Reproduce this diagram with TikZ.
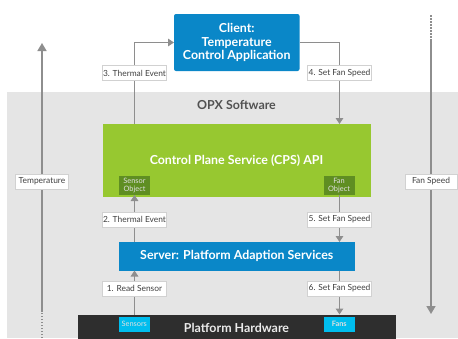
\documentclass[tikz,border=0pt]{standalone}
\usepackage{fontspec}
\setmainfont{Lato}
\usetikzlibrary{arrows.meta}
\definecolor{bgray}{HTML}{E5E5E5}
\definecolor{dblue}{HTML}{0A87C8}
\definecolor{dgreen}{HTML}{97C830}
\definecolor{objg}{HTML}{5F8E22}
\definecolor{plat}{HTML}{2E2E2E}
\definecolor{cyanb}{HTML}{00BDEE}
\definecolor{linec}{HTML}{8E8E8E}
\tikzset{
 x=1pt,y=-1pt,
 box/.style={anchor=north west,inner sep=0pt,outer sep=0pt},
 title/.style={text=white,inner sep=0pt,align=center,font=\bfseries\fontsize{12.4}{13.5}\selectfont},
 lab/.style={draw=black!18,line width=.7pt,fill=white,inner sep=0pt,outer sep=0pt,minimum height=15pt,font=\fontsize{8.4}{9}\selectfont,text=black!75},
 tiny/.style={inner sep=0pt,align=center,text=white!88!black,font=\fontsize{7.4}{8.4}\selectfont},
 conn/.style={draw=linec,line width=1.5pt},
 arr/.style={conn,-{Triangle[length=6pt,width=7.5pt]}},
 bigarr/.style={draw=linec,line width=1.6pt,-{Triangle[length=8pt,width=9pt]}},
 dots/.style={draw=linec,line width=1.6pt,dash pattern=on 1.5pt off 1.5pt},
}
\begin{document}
\begin{tikzpicture}
\useasboundingbox (0,0) rectangle (458,338);
\fill[white] (0,0) rectangle (458,338);
\fill[bgray] (7,92) rectangle (458,338);
\node[box,fill=dblue,rounded corners=2pt,minimum width=125.5pt,minimum height=57pt] (client) at (174,14) {};
\node[title] (clienttext) at (client.center) {Client:\\Temperature\\Control Application};
\node[title,text=black!68] (opx) at (236.5,105) {OPX Software};
\node[box,fill=dgreen,minimum width=267.5pt,minimum height=73pt] (green) at (103,124) {};
\node[title] (greentext) at (236.5,161) {Control Plane Service (CPS) API};
\node[box,fill=objg,minimum width=31pt,minimum height=19.5pt] (sobj) at (119,175.5) {};
\node[tiny] (sobjt) at (sobj.center) {Sensor\\Object};
\node[box,fill=objg,minimum width=31pt,minimum height=19.5pt] (fobj) at (323.5,175.5) {};
\node[tiny] (fobjt) at (fobj.center) {Fan\\Object};
\node[box,fill=dblue,minimum width=235.5pt,minimum height=28.5pt] (server) at (119,242) {};
\node[title] (servert) at (server.center) {Server: Platform Adaption Services};
\node[box,fill=plat,minimum width=318pt,minimum height=24pt] (hw) at (78,314.5) {};
\node[title,text=white!92!black] (hwt) at (236.5,328) {Platform Hardware};
\node[box,fill=cyanb,minimum width=30.5pt,minimum height=14.5pt] (sens) at (119,317) {};
\node[tiny] (senst) at (sens.center) {Sensors};
\node[box,fill=cyanb,minimum width=30.5pt,minimum height=14.5pt] (fans) at (324,317) {};
\node[tiny,font=\bfseries\fontsize{7.4}{8}\selectfont] (fanst) at (fans.center) {Fans};
% free ends
\coordinate (lx) at (134.5,0);
\coordinate (rx) at (339.5,0);
\coordinate (tempbot) at (42,338);
\coordinate (tempmid) at (42,312);
\coordinate (temptop) at (42,43);
\coordinate (fantop) at (431,15);
\coordinate (fanmid) at (431,40);
\coordinate (fanbot) at (431,314);
% connectors
\draw[arr] (lx |- green.north) |- (client.west);
\draw[arr] (client.east) -| (rx |- green.north);
\draw[arr] (lx |- server.north) -- (lx |- sobj.south);
\draw[arr] (lx |- hw.north) -- (lx |- server.south);
\draw[arr] (rx |- fobj.south) -- (rx |- server.north);
\draw[arr] (rx |- server.south) -- (rx |- hw.north);
\draw[dots] (tempbot) -- (tempmid);
\draw[bigarr] (tempmid) -- (temptop);
\draw[dots] (fantop) -- (fanmid);
\draw[bigarr] (fanmid) -- (fanbot);
% label boxes
\node[lab,minimum width=63.5pt] (l3) at (134.5,73) {3. Thermal Event};
\node[lab,minimum width=63.5pt] (l4) at (339.5,73) {4. Set Fan Speed};
\node[lab,minimum width=63.5pt] (l2) at (134.5,219.5) {2. Thermal Event};
\node[lab,minimum width=63.5pt] (l5) at (339.5,219.5) {5. Set Fan Speed};
\node[lab,minimum width=63.5pt] (l1) at (134.5,288.5) {1. Read Sensor};
\node[lab,minimum width=63.5pt] (l6) at (339.5,288.5) {6. Set Fan Speed};
\node[lab,minimum width=53pt] (ltemp) at (42,181.5) {Temperature};
\node[lab,minimum width=52pt] (lfan) at (431,181.5) {Fan Speed};
\end{tikzpicture}
\end{document}
